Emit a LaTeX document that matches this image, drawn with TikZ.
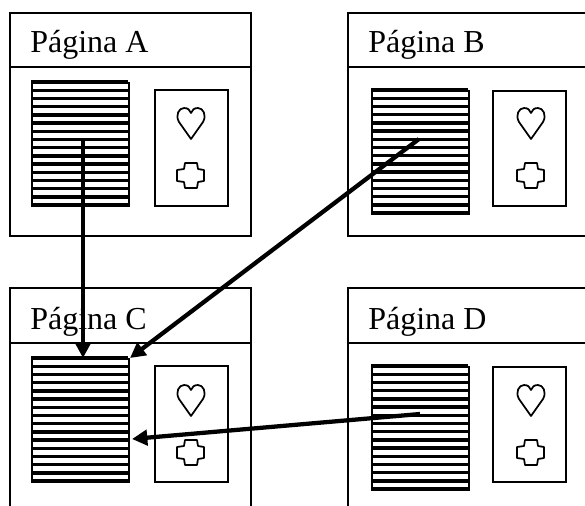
\documentclass[tikz,border=0pt]{standalone}
\usepackage{fontspec}
\setmainfont{Liberation Serif}
\usetikzlibrary{arrows.meta}

\tikzset{
  frameline/.style={line width=1.4pt},
  title/.style={anchor=base west,inner sep=0pt,font=\fontsize{24}{28}\selectfont},
  stripesbox/.style={draw,line width=1.4pt,minimum width=72.75pt,minimum height=92.25pt,inner sep=0pt},
  stripeline/.style={line width=2.6pt},
  cardbox/.style={draw,line width=1.4pt,minimum width=54.75pt,inner sep=0pt},
  symbolline/.style={line width=1.3pt,line join=round},
  link/.style={line width=3.2pt,-{Triangle[length=11.5pt,width=11.5pt]}}
}

\newcommand{\stripes}[1]{
  \foreach \n in {0,...,15}
    \draw[stripeline] (#1.north west) ++(0,8.2*\n) -- ++(97,0);
}
\newcommand{\symbols}{
  \draw[symbolline] (191,139) -- (179,122) .. controls (175,115) and (179,108) .. (184,108)
    .. controls (188,108) and (190,110) .. (191,113)
    .. controls (192,110) and (194,108) .. (198,108)
    .. controls (203,108) and (207,115) .. (203,122) -- cycle;
  \draw[symbolline] (185,163) -- (197,163) -- (198,169) -- (204,170) -- (204,181) -- (198,182)
    -- (197,188) -- (185,188) -- (184,182) -- (177,181) -- (177,170) -- (184,169) -- cycle;
}

\begin{document}
\begin{tikzpicture}[x=0.75pt,y=-0.75pt]
  \useasboundingbox (0,0) rectangle (585,506);

  % top row
  \draw[frameline] (10,13) rectangle (251,236);
  \draw[frameline] (10,67) -- (251,67);
  \node[title] (titleA) at (30,53) {Página A};
  \node[stripesbox] (stripesA) at (80.5,144.5) {};
  \stripes{stripesA}
  \node[cardbox,minimum height=87pt] (cardA) at (191.5,148) {};
  \symbols

  \draw[frameline] (585,13) -- (348,13) -- (348,236) -- (585,236);
  \draw[frameline] (348,67) -- (585,67);
  \node[title] (titleB) at (368,53) {Página B};
  \node[stripesbox] (stripesB) at (420.5,152.5) {};
  \stripes{stripesB}
  \node[cardbox,minimum height=86.25pt] (cardB) at (529.5,148.5) {};
  \begin{scope}[shift={(340,0)}]
    \symbols
  \end{scope}

  % bottom row
  \draw[frameline] (10,506) -- (10,288) -- (251,288) -- (251,506);
  \draw[frameline] (10,343) -- (251,343);
  \node[title] (titleC) at (30,329) {Página C};
  \node[stripesbox] (stripesC) at (80.5,420.5) {};
  \stripes{stripesC}
  \node[cardbox,minimum height=87pt] (cardC) at (191.5,424) {};
  \begin{scope}[shift={(0,277)}]
    \symbols
  \end{scope}

  \draw[frameline] (585,288) -- (348,288) -- (348,506);
  \draw[frameline] (348,343) -- (585,343);
  \node[title] (titleD) at (368,329) {Página D};
  \node[stripesbox] (stripesD) at (420.5,428.5) {};
  \stripes{stripesD}
  \node[cardbox,minimum height=86.25pt] (cardD) at (529.5,424.5) {};
  \begin{scope}[shift={(340,277)}]
    \symbols
  \end{scope}

  % links
  \coordinate (startA) at (83,141);
  \coordinate (startB) at (419,139);
  \coordinate (startD) at (420,414);
  \coordinate (endA) at (83,358);
  \coordinate (endB) at (130,358);
  \coordinate (endD) at (132,439);
  \draw[link] (startA) -- (endA);
  \draw[link] (startB) -- (endB);
  \draw[link] (startD) -- (endD);
\end{tikzpicture}
\end{document}
